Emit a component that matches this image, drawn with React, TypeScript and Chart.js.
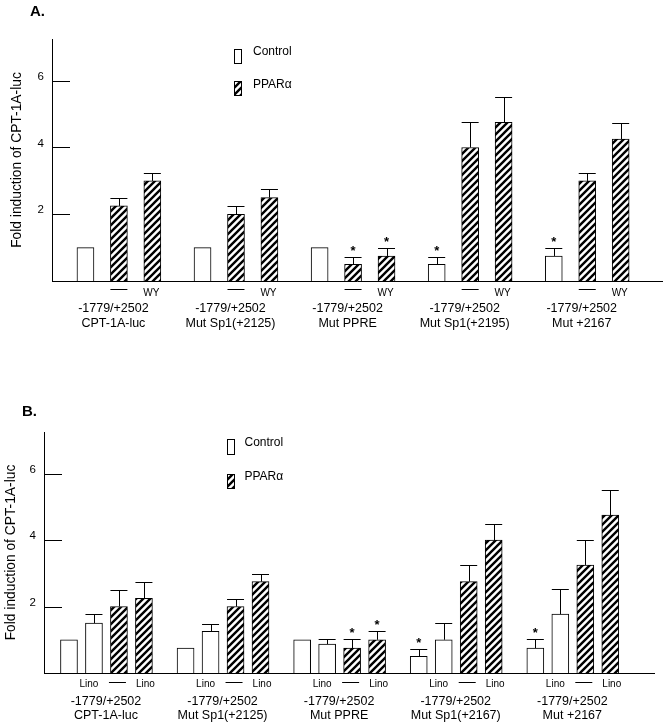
import React, { useEffect, useRef } from "react";
import { Chart, registerables } from "chart.js";

Chart.register(...registerables);

const FONT = "'Liberation Sans', Arial, Helvetica, sans-serif";
Chart.defaults.font.family = FONT;

// ---------- shared ----------
const Y_TICKS = [2, 4, 6];
const Y_MAX = 7.25;
const Y_TITLE = "Fold induction of CPT-1A-luc";
const LEGEND_LABELS = ["Control", "PPARα"];

// ---------- Panel A ----------
const A_GROUPS = [
  ["-1779/+2502", "CPT-1A-luc"],
  ["-1779/+2502", "Mut Sp1(+2125)"],
  ["-1779/+2502", "Mut PPRE"],
  ["-1779/+2502", "Mut Sp1(+2195)"],
  ["-1779/+2502", "Mut +2167"],
];
const A_BAR_LABELS = ["", "—", "WY"];
const A_CONTROL = [1.0, 1.0, 1.0, 0.5, 0.75];
const A_CONTROL_ERR = [0, 0, 0, 0.23, 0.25];
const A_CONTROL_STAR = [false, false, false, true, true];
const A_PPAR = [2.25, 2.0, 0.5, 4.0, 3.0];
const A_PPAR_ERR = [0.23, 0.24, 0.23, 0.75, 0.25];
const A_PPAR_STAR = [false, false, true, false, false];
const A_PPAR_WY = [3.0, 2.5, 0.75, 4.75, 4.25];
const A_PPAR_WY_ERR = [0.24, 0.27, 0.25, 0.75, 0.49];
const A_PPAR_WY_STAR = [false, false, true, false, false];

// ---------- Panel B ----------
const B_GROUPS = [
  ["-1779/+2502", "CPT-1A-luc"],
  ["-1779/+2502", "Mut Sp1(+2125)"],
  ["-1779/+2502", "Mut PPRE"],
  ["-1779/+2502", "Mut Sp1(+2167)"],
  ["-1779/+2502", "Mut +2167"],
];
const B_BAR_LABELS = ["", "Lino", "—", "Lino"];
const B_CONTROL = [1.0, 0.75, 1.0, 0.5, 0.75];
const B_CONTROL_ERR = [0, 0, 0, 0.23, 0.27];
const B_CONTROL_STAR = [false, false, false, true, true];
const B_CONTROL_LINO = [1.5, 1.25, 0.87, 1.0, 1.77];
const B_CONTROL_LINO_ERR = [0.27, 0.23, 0.15, 0.5, 0.75];
const B_CONTROL_LINO_STAR = [false, false, false, false, false];
const B_PPAR = [2.0, 2.0, 0.75, 2.75, 3.25];
const B_PPAR_ERR = [0.5, 0.23, 0.27, 0.5, 0.75];
const B_PPAR_STAR = [false, false, true, false, false];
const B_PPAR_LINO = [2.25, 2.75, 1.0, 4.0, 4.75];
const B_PPAR_LINO_ERR = [0.5, 0.23, 0.25, 0.48, 0.76];
const B_PPAR_LINO_STAR = [false, false, true, false, false];

type Series = { kind: number; values: number[]; errors: number[]; stars: boolean[] };

interface PanelSpec {
  letter: string;
  canvasTop: number;
  canvasH: number;
  area: { left: number; right: number; top: number; bottom: number };
  xMax: number;
  first: number;
  step: number;
  period: number;
  groups: string[][];
  barLabels: string[];
  barLabelOffsets: number[];
  groupLabelOffset: number;
  series: Series[];
  titlePad: number;
  letterPos: [number, number];
  legendBoxes: [number, number, number, number][];
  legendText: [number, number][];
  dashDy: number;
  subDy: number;
  line1Dy: number;
  line2Dy: number;
}

const PANEL_A: PanelSpec = {
  letter: "A.",
  canvasTop: 0,
  canvasH: 350,
  area: { left: 52, right: 662, top: 39, bottom: 281 },
  xMax: 36.47,
  first: 2,
  step: 2,
  period: 7,
  groups: A_GROUPS,
  barLabels: A_BAR_LABELS,
  barLabelOffsets: [0, 0, -1],
  groupLabelOffset: -5.5,
  series: [
    { kind: 0, values: A_CONTROL, errors: A_CONTROL_ERR, stars: A_CONTROL_STAR },
    { kind: 1, values: A_PPAR, errors: A_PPAR_ERR, stars: A_PPAR_STAR },
    { kind: 1, values: A_PPAR_WY, errors: A_PPAR_WY_ERR, stars: A_PPAR_WY_STAR },
  ],
  titlePad: 9.4,
  letterPos: [30, 11.5],
  legendBoxes: [
    [234, 49, 8, 15],
    [234, 81, 8, 15],
  ],
  legendText: [
    [253, 52],
    [253, 85],
  ],
  dashDy: 8,
  subDy: 12.5,
  line1Dy: 28,
  line2Dy: 43,
};

const PANEL_B: PanelSpec = {
  letter: "B.",
  canvasTop: 350,
  canvasH: 376,
  area: { left: 44, right: 654, top: 82, bottom: 323 },
  xMax: 73.25,
  first: 3,
  step: 3,
  period: 14,
  groups: B_GROUPS,
  barLabels: B_BAR_LABELS,
  barLabelOffsets: [0, -5, -1.5, 1.5],
  groupLabelOffset: -0.5,
  series: [
    { kind: 0, values: B_CONTROL, errors: B_CONTROL_ERR, stars: B_CONTROL_STAR },
    { kind: 0, values: B_CONTROL_LINO, errors: B_CONTROL_LINO_ERR, stars: B_CONTROL_LINO_STAR },
    { kind: 1, values: B_PPAR, errors: B_PPAR_ERR, stars: B_PPAR_STAR },
    { kind: 1, values: B_PPAR_LINO, errors: B_PPAR_LINO_ERR, stars: B_PPAR_LINO_STAR },
  ],
  titlePad: 3.4,
  letterPos: [22, 61.5],
  legendBoxes: [
    [227, 89, 8, 16],
    [227, 124, 8, 15],
  ],
  legendText: [
    [244.5, 92.5],
    [244.5, 126.5],
  ],
  dashDy: 8.5,
  subDy: 11,
  line1Dy: 29,
  line2Dy: 43,
};

function makeHatch(): CanvasPattern | string {
  const size = 7;
  const c = document.createElement("canvas");
  c.width = size;
  c.height = size;
  const ctx = c.getContext("2d");
  if (!ctx) return "#888";
  ctx.fillStyle = "#fff";
  ctx.fillRect(0, 0, size, size);
  ctx.strokeStyle = "#000";
  ctx.lineWidth = 2.4;
  ctx.beginPath();
  ctx.moveTo(-1, size + 1);
  ctx.lineTo(size + 1, -1);
  ctx.moveTo(-2, 2);
  ctx.lineTo(2, -2);
  ctx.moveTo(size - 2, size + 2);
  ctx.lineTo(size + 2, size - 2);
  ctx.stroke();
  return ctx.createPattern(c, "repeat") || "#888";
}

function buildConfig(spec: PanelSpec, hatch: CanvasPattern | string): any {
  const info = [0, 1].map(() => ({
    points: [] as { x: number; y: number }[],
    errors: [] as number[],
    stars: [] as boolean[],
  }));
  spec.series.forEach((s, slot) => {
    s.values.forEach((v, g) => {
      const d = info[s.kind];
      d.points.push({ x: spec.first + g * spec.period + slot * spec.step, y: v });
      d.errors.push(s.errors[g]);
      d.stars.push(s.stars[g]);
    });
  });
  const fills = ["#ffffff", hatch];
  const A = spec.area;

  const decor = {
    id: "decor" + spec.letter.replace(".", ""),
    afterDatasetsDraw(chart: any) {
      const ctx: CanvasRenderingContext2D = chart.ctx;
      const ys = chart.scales.y;
      ctx.save();
      ctx.strokeStyle = "#000";
      ctx.fillStyle = "#000";
      ctx.lineWidth = 1;
      info.forEach((d, di) => {
        const meta = chart.getDatasetMeta(di);
        meta.data.forEach((el: any, i: number) => {
          const err = d.errors[i];
          const half = el.width / 2;
          const cx = Math.round(el.x) + 0.5;
          let top = el.y;
          if (err > 0) {
            const ey = Math.round(ys.getPixelForValue(d.points[i].y + err)) + 0.5;
            ctx.beginPath();
            ctx.moveTo(cx, el.y);
            ctx.lineTo(cx, ey);
            ctx.moveTo(el.x - half, ey);
            ctx.lineTo(el.x + half, ey);
            ctx.stroke();
            top = ey;
          }
          if (d.stars[i]) {
            ctx.font = "bold 13px " + FONT;
            ctx.textAlign = "center";
            ctx.textBaseline = "alphabetic";
            ctx.fillText("*", el.x, top - 2.5);
          }
        });
      });
      ctx.restore();
    },
    afterDraw(chart: any) {
      const ctx: CanvasRenderingContext2D = chart.ctx;
      const xs = chart.scales.x;
      const ys = chart.scales.y;
      const ca = chart.chartArea;
      ctx.save();
      ctx.strokeStyle = "#000";
      ctx.fillStyle = "#000";
      ctx.lineWidth = 1;
      // inward tick marks
      Y_TICKS.forEach((v) => {
        const py = Math.round(ys.getPixelForValue(v)) + 0.5;
        ctx.beginPath();
        ctx.moveTo(ca.left, py);
        ctx.lineTo(ca.left + 18, py);
        ctx.stroke();
      });
      // legend
      spec.legendBoxes.forEach((b, k) => {
        ctx.fillStyle = fills[k] as any;
        ctx.fillRect(b[0], b[1], b[2], b[3]);
        ctx.strokeStyle = "#000";
        ctx.strokeRect(b[0] + 0.5, b[1] + 0.5, b[2] - 1, b[3] - 1);
        ctx.fillStyle = "#000";
        ctx.font = "12px " + FONT;
        ctx.textAlign = "left";
        ctx.textBaseline = "middle";
        ctx.fillText(LEGEND_LABELS[k], spec.legendText[k][0], spec.legendText[k][1]);
      });
      // bar labels under axis
      ctx.fillStyle = "#000";
      spec.groups.forEach((lines, g) => {
        spec.barLabels.forEach((lab, slot) => {
          if (!lab) return;
          const px = xs.getPixelForValue(spec.first + g * spec.period + slot * spec.step) + spec.barLabelOffsets[slot];
          if (lab === "—") {
            const py = Math.round(ca.bottom + spec.dashDy) + 0.5;
            ctx.beginPath();
            ctx.moveTo(px - 8.5, py);
            ctx.lineTo(px + 8.5, py);
            ctx.stroke();
          } else {
            ctx.font = "10px " + FONT;
            ctx.textAlign = "center";
            ctx.textBaseline = "middle";
            ctx.fillText(lab, px, ca.bottom + spec.subDy);
          }
        });
        const nSlots = spec.barLabels.length;
        const mid = spec.first + g * spec.period + ((nSlots - 1) * spec.step) / 2;
        const gx = xs.getPixelForValue(mid) + spec.groupLabelOffset;
        ctx.font = "12.5px " + FONT;
        ctx.textAlign = "center";
        ctx.textBaseline = "middle";
        ctx.fillText(lines[0], gx, ca.bottom + spec.line1Dy);
        ctx.fillText(lines[1], gx, ca.bottom + spec.line2Dy);
      });
      // panel letter
      ctx.font = "bold 15px " + FONT;
      ctx.textAlign = "left";
      ctx.textBaseline = "middle";
      ctx.fillText(spec.letter, spec.letterPos[0], spec.letterPos[1]);
      ctx.restore();
    },
  };

  return {
    type: "bar",
    data: {
      datasets: info.map((d, k) => ({
        label: LEGEND_LABELS[k],
        data: d.points,
        backgroundColor: fills[k],
        borderColor: "#000",
        borderWidth: 1,
        borderSkipped: "start",
        barThickness: 17,
        grouped: false,
      })),
    },
    options: {
      responsive: false,
      animation: false,
      events: [],
      layout: {
        padding: { top: A.top, left: 0, right: 666 - A.right, bottom: spec.canvasH - A.bottom },
      },
      plugins: { legend: { display: false }, tooltip: { enabled: false } },
      scales: {
        x: {
          type: "linear",
          min: 0,
          max: spec.xMax,
          offset: false,
          grid: { display: false, drawTicks: false },
          border: { display: true, color: "#000", width: 1 },
          ticks: { display: false },
          afterFit: (s: any) => {
            s.height = 0;
          },
        },
        y: {
          type: "linear",
          min: 0,
          max: Y_MAX,
          grid: { display: false, drawTicks: false },
          border: { display: true, color: "#000", width: 1 },
          afterBuildTicks: (s: any) => {
            s.ticks = Y_TICKS.map((v) => ({ value: v }));
          },
          ticks: {
            color: "#000",
            font: { family: FONT, size: 11.5 },
            padding: 8,
            labelOffset: -4,
            callback: (v: any) => String(v),
          },
          title: {
            display: true,
            text: Y_TITLE,
            color: "#000",
            font: { family: FONT, size: 13.8 },
            padding: { top: spec.titlePad, bottom: 0 },
          },
          afterFit: (s: any) => {
            s.width = A.left;
          },
        },
      },
    },
    plugins: [decor],
  };
}

function Panel({ spec }: { spec: PanelSpec }) {
  const ref = useRef<HTMLCanvasElement>(null);
  useEffect(() => {
    const canvas = ref.current;
    if (!canvas) return;
    const chart = new Chart(canvas, buildConfig(spec, makeHatch()));
    return () => chart.destroy();
  }, [spec]);
  return (
    <canvas
      ref={ref}
      width={666}
      height={spec.canvasH}
      style={{
        position: "absolute",
        left: 0,
        top: spec.canvasTop,
        width: 666,
        height: spec.canvasH,
        display: "block",
      }}
    />
  );
}

export default function App() {
  return (
    <div
      style={{
        position: "absolute",
        left: 0,
        top: 0,
        width: 666,
        height: 726,
        background: "#fff",
        overflow: "hidden",
      }}
    >
      <Panel spec={PANEL_A} />
      <Panel spec={PANEL_B} />
    </div>
  );
}
